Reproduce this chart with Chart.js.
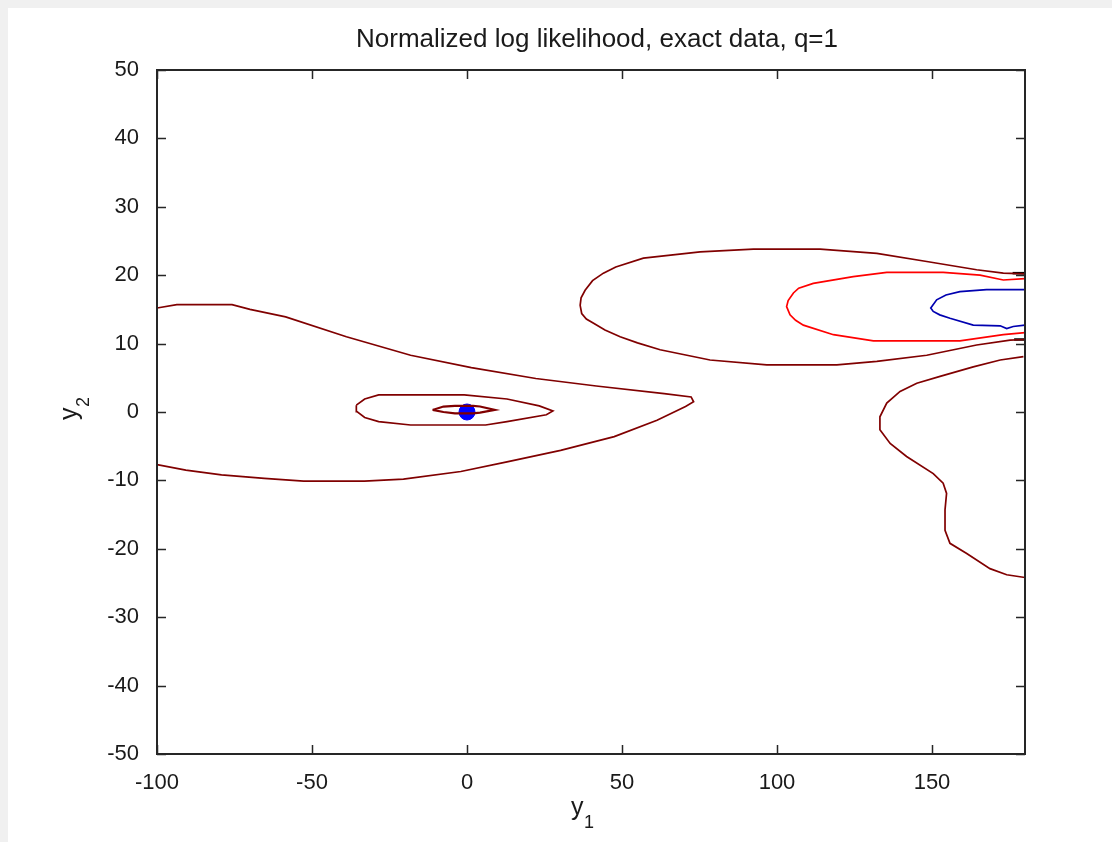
<!DOCTYPE html>
<html>
<head>
<meta charset="utf-8">
<script src="https://cdn.jsdelivr.net/npm/chart.js@4.4.1/dist/chart.umd.min.js"></script>
<style>
  html, body { margin: 0; padding: 0; background: #fff; }
  canvas { display: block; }
</style>
</head>
<body>
<canvas id="contourChart" width="1112" height="842"></canvas>
<script>
// axis ticks
const xTicks = [-100, -50, 0, 50, 100, 150];
const yTicks = [-50, -40, -30, -20, -10, 0, 10, 20, 30, 40, 50];

// contour lines (y1, y2)
const tongueX = [-100, -93.6, -75.8, -70, -58.5, -38.9, -18.2, 1.4, 22.2, 41.7, 63.6, 72.3, 73.1, 70.5, 61.3, 47.5, 30.2, 12.9, -2, -20.5, -33.1, -52.7, -65.4, -79.2, -90.7, -100];
const tongueY = [15.2, 15.7, 15.7, 15.0, 13.9, 11.0, 8.3, 6.5, 4.9, 3.8, 2.7, 2.2, 1.5, 0.8, -1.2, -3.6, -5.6, -7.3, -8.7, -9.8, -10.1, -10.1, -9.7, -9.2, -8.5, -7.7];

const innerX = [-35.7, -33, -28.5, -0.9, 12.9, 23.3, 27.7, 25.6, 12.9, 6, -18.2, -28.5, -33, -35.5, -35.7];
const innerY = [1.0, 1.9, 2.5, 2.5, 1.9, 0.9, 0.15, -0.4, -1.4, -1.9, -1.9, -1.4, -0.8, 0.05, 1.0];

const coreX = [-11.1, -7.6, -3.9, 2, 4.2, 9, 4.2, 2, -3.9, -7.6, -11.1];
const coreY = [0.3, 0.8, 0.9, 0.9, 0.8, 0.3, -0.1, -0.2, -0.2, 0.0, 0.3];

const outerRightX = [180, 173, 164.4, 148.3, 132.2, 113.9, 92.4, 75.2, 56.9, 48, 44, 40.5, 38.1, 36.8, 36.5, 37, 38.5, 40.7, 44.5, 49.4, 55, 62.3, 78.4, 96.7, 119.3, 132.2, 148.3, 164.4, 175.2, 180];
const outerRightY = [20.2, 20.3, 20.8, 22.0, 23.2, 23.8, 23.8, 23.4, 22.5, 21.2, 20.3, 19.2, 17.8, 16.7, 15.6, 14.4, 13.6, 13.0, 12.0, 11.0, 10.1, 9.1, 7.6, 6.9, 6.9, 7.4, 8.3, 9.8, 10.5, 10.6];

const redX = [180, 173, 165.5, 153.6, 135.4, 124.6, 111.7, 107, 105.3, 103.6, 103.1, 104.2, 106, 108.5, 118.2, 131.1, 159, 173, 180];
const redY = [19.5, 19.3, 20.0, 20.4, 20.4, 19.8, 18.8, 18.1, 17.4, 16.3, 15.4, 14.2, 13.4, 12.7, 11.3, 10.4, 10.4, 11.3, 11.6];

const blueX = [180, 167.6, 159, 154.5, 151.5, 149.6, 150.4, 152.5, 155.8, 163.3, 172, 174.1, 176.2, 180];
const blueY = [17.9, 17.9, 17.6, 17.1, 16.4, 15.2, 14.7, 14.2, 13.7, 12.7, 12.6, 12.2, 12.5, 12.7];

const lowerRightX = [179.5, 172, 163.3, 152.6, 145.1, 139.7, 135.4, 133.2, 133.2, 136.5, 141.8, 150.4, 153.6, 154.7, 154.2, 154.2, 155.8, 161.2, 168.7, 174.1, 180];
const lowerRightY = [8.1, 7.6, 6.6, 5.2, 4.2, 3.0, 1.3, -0.7, -2.6, -4.6, -6.5, -9.0, -10.4, -11.9, -14.3, -17.3, -19.2, -20.7, -22.9, -23.8, -24.2];

const edgeTopX = [176, 180];
const edgeTopY = [20.3, 20.3];
const edgeBottomX = [176.5, 180];
const edgeBottomY = [10.6, 10.6];

const peakX = [0];
const peakY = [0];

function pts(xs, ys) {
    return xs.map((x, i) => ({ x: x, y: ys[i] }));
}

function contour(xs, ys, color, width) {
    return {
        data: pts(xs, ys),
        showLine: true,
        borderColor: color,
        borderWidth: width || 1.7,
        pointRadius: 0,
        tension: 0,
        fill: false
    };
}

const FONT = '"Liberation Sans", Arial, sans-serif';

const matlabAxes = {
    id: 'matlabAxes',
    beforeDraw(chart) {
        const ctx = chart.ctx;
        ctx.save();
        ctx.fillStyle = '#ffffff';
        ctx.fillRect(0, 0, chart.width, chart.height);
        ctx.fillStyle = '#f0f0f0';
        ctx.fillRect(0, 0, chart.width, 8);
        ctx.fillRect(0, 0, 8, chart.height);
        ctx.restore();
    },
    afterDraw(chart) {
        const ctx = chart.ctx;
        const a = chart.chartArea;
        const xs = chart.scales.x, ys = chart.scales.y;
        ctx.save();
        ctx.strokeStyle = '#262626';
        ctx.lineWidth = 2;
        ctx.strokeRect(a.left, a.top, a.right - a.left, a.bottom - a.top);
        ctx.lineWidth = 1.5;
        ctx.beginPath();
        xTicks.forEach(v => {
            const px = Math.round(xs.getPixelForValue(v)) + 0.5;
            ctx.moveTo(px, a.bottom); ctx.lineTo(px, a.bottom - 9);
            ctx.moveTo(px, a.top); ctx.lineTo(px, a.top + 9);
        });
        yTicks.forEach(v => {
            const py = Math.round(ys.getPixelForValue(v)) + 0.5;
            ctx.moveTo(a.left, py); ctx.lineTo(a.left + 9, py);
            ctx.moveTo(a.right, py); ctx.lineTo(a.right - 9, py);
        });
        ctx.stroke();

        // title
        ctx.fillStyle = '#1a1a1a';
        ctx.font = '26px ' + FONT;
        ctx.textAlign = 'center';
        ctx.textBaseline = 'middle';
        ctx.fillText('Normalized log likelihood, exact data, q=1', 597, 40);

        // x axis label y1
        ctx.font = '25px ' + FONT;
        ctx.textAlign = 'left';
        ctx.textBaseline = 'alphabetic';
        ctx.fillText('y', 571, 815);
        ctx.font = '18px ' + FONT;
        ctx.fillText('1', 584, 828);

        // y axis label y2
        ctx.translate(77, 420);
        ctx.rotate(-Math.PI / 2);
        ctx.font = '25px ' + FONT;
        ctx.fillText('y', 0, 0);
        ctx.font = '18px ' + FONT;
        ctx.fillText('2', 13, 12);
        ctx.restore();
    }
};

const ctx = document.getElementById('contourChart').getContext('2d');
const contourChart = new Chart(ctx, {
    type: 'scatter',
    data: {
        datasets: [
            contour(tongueX, tongueY, '#800000'),
            contour(innerX, innerY, '#800000'),
            contour(coreX, coreY, '#800000', 2.2),
            contour(outerRightX, outerRightY, '#800000'),
            contour(redX, redY, '#ff0000'),
            contour(blueX, blueY, '#0000b0'),
            contour(lowerRightX, lowerRightY, '#800000'),
            contour(edgeTopX, edgeTopY, '#000000', 2.5),
            contour(edgeBottomX, edgeBottomY, '#000000', 2.5),
            {
                data: pts(peakX, peakY),
                pointRadius: 8,
                pointBackgroundColor: '#0000ff',
                pointBorderColor: '#0000ff',
                showLine: false
            }
        ]
    },
    options: {
        responsive: false,
        animation: false,
        devicePixelRatio: 1,
        layout: { padding: { left: 0, top: 70, right: 87, bottom: 0 } },
        plugins: {
            legend: { display: false },
            tooltip: { enabled: false },
            title: { display: false }
        },
        scales: {
            x: {
                type: 'linear',
                position: 'bottom',
                min: -100,
                max: 180,
                afterBuildTicks: s => { s.ticks = xTicks.map(v => ({ value: v })); },
                afterFit: s => { s.height = 88; },
                grid: { display: false },
                border: { display: false },
                ticks: {
                    autoSkip: false,
                    maxRotation: 0,
                    padding: 8,
                    color: '#1a1a1a',
                    font: { family: FONT, size: 22 }
                }
            },
            y: {
                type: 'linear',
                min: -50,
                max: 50,
                afterBuildTicks: s => { s.ticks = yTicks.map(v => ({ value: v })); },
                afterFit: s => { s.width = 157; },
                grid: { display: false },
                border: { display: false },
                ticks: {
                    autoSkip: false,
                    padding: 10,
                    color: '#1a1a1a',
                    font: { family: FONT, size: 22 }
                }
            }
        }
    },
    plugins: [matlabAxes]
});
</script>
</body>
</html>
